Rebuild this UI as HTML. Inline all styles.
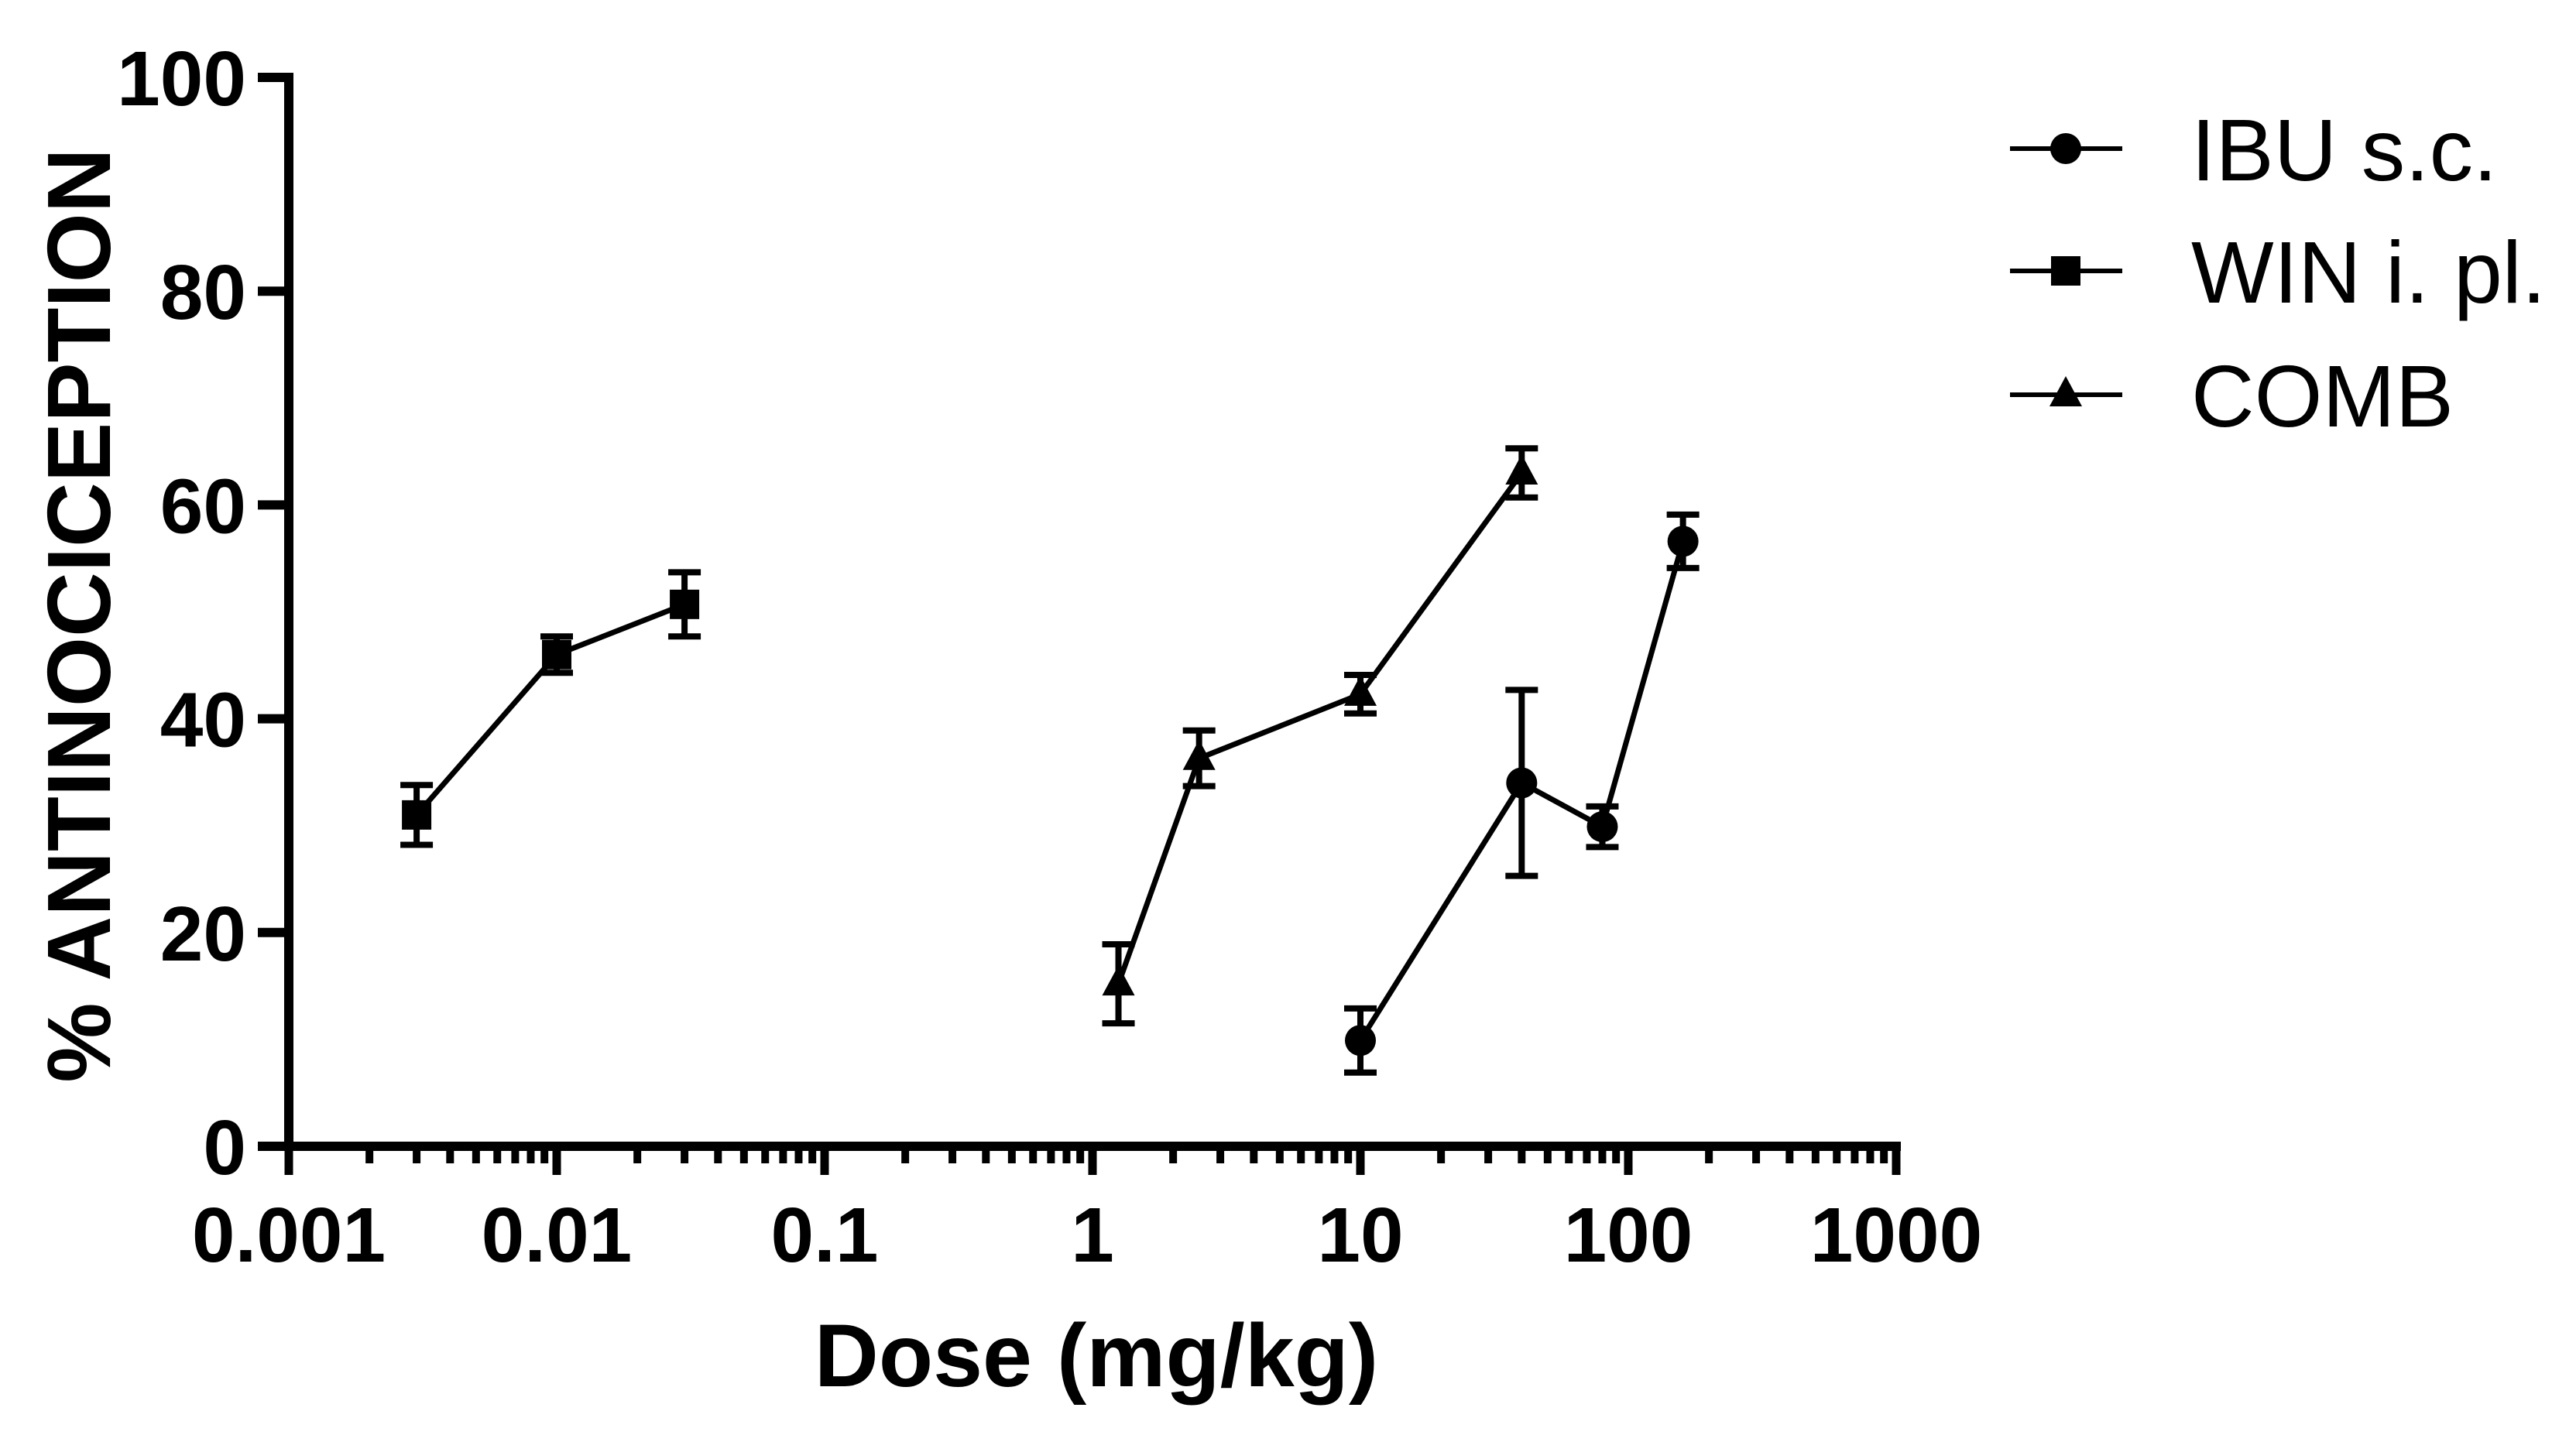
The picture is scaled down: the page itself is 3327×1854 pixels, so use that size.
<!DOCTYPE html>
<html><head><meta charset="utf-8"><style>
html,body{margin:0;padding:0;background:#fff;}
svg{display:block;}
text{font-family:"Liberation Sans",Arial,sans-serif;fill:#000;}
</style></head><body>
<svg id="chart" width="3327" height="1854" viewBox="0 0 3327 1854" xmlns="http://www.w3.org/2000/svg">
<g id="axes"></g>
<g id="series"></g>
<text transform="translate(142,795) rotate(-90)" text-anchor="middle" font-size="116" font-weight="bold">% ANTINOCICEPTION</text>
<text x="1416" y="1791" text-anchor="middle" font-size="115" font-weight="bold">Dose (mg/kg)</text>
<g id="legend"></g>
</svg>
<script>
const yTicks = [0, 20, 40, 60, 80, 100];
const xTickLabels = ["0.001", "0.01", "0.1", "1", "10", "100", "1000"];
const xTickValues = [0.001, 0.01, 0.1, 1, 10, 100, 1000];
const seriesNames = ["IBU s.c.", "WIN i. pl.", "COMB"];
const ibuX = [10, 40, 80, 160];
const ibuY = [9.9, 34, 29.9, 56.6];
const ibuErr = [3, 8.7, 1.9, 2.5];
const winX = [0.003, 0.01, 0.03];
const winY = [31, 46, 50.7];
const winErr = [2.8, 1.7, 3];
const combX = [1.25, 2.5, 10, 40];
const combY = [15.2, 36.3, 42.3, 63];
const combErr = [3.7, 2.6, 1.8, 2.3];

const NS = "http://www.w3.org/2000/svg";
const X0 = 373, DEC = 346, Y0 = 1481, Y100 = 100;
function xs(v){ return X0 + (Math.log10(v) + 3) * DEC; }
function ys(v){ return Y0 - (v / 100) * (Y0 - Y100); }
function mk(tag, attrs, parent){
  const e = document.createElementNS(NS, tag);
  for (const k in attrs) e.setAttribute(k, attrs[k]);
  parent.appendChild(e); return e;
}
const axes = document.getElementById('axes');
let el;
el = mk('line', {x1: X0, y1: 94, x2: X0, y2: 1487, stroke: '#000', 'stroke-width': 12}, axes);


el = mk('line', {x1: 367, y1: Y0, x2: xs(1000) + 6, y2: Y0, stroke: '#000', 'stroke-width': 12}, axes);


yTicks.forEach(v => {
  const y = ys(v);
  el = mk('line', {x1: 333, y1: y, x2: X0, y2: y, stroke: '#000', 'stroke-width': 12}, axes);
  
  
  el = mk('text', {x: 318, y: y + 36, 'text-anchor': 'end', 'font-size': 100, 'font-weight': 'bold'}, axes);
  el.textContent = String(v);
  
  
});
xTickValues.forEach((v, i) => {
  const x = xs(v);
  el = mk('line', {x1: x, y1: Y0, x2: x, y2: 1518, stroke: '#000', 'stroke-width': 11}, axes);
  
  
  el = mk('text', {x: x, y: 1630, 'text-anchor': 'middle', 'font-size': 100, 'font-weight': 'bold'}, axes);
  el.textContent = xTickLabels[i];
  
  
  if (i < xTickValues.length - 1) {
    for (let m = 2; m <= 9; m++) {
      const xm = xs(v * m);
      el = mk('line', {x1: xm, y1: Y0, x2: xm, y2: 1503, stroke: '#000', 'stroke-width': 10}, axes);
      
      
    }
  }
});

const seriesG = document.getElementById('series');
function marker(shape, cx, cy, parent){
  let m;
  if (shape === 'circle') m = mk('circle', {cx: cx, cy: cy, r: 20, fill: '#000'}, parent);
  else if (shape === 'square') m = mk('rect', {x: cx - 19, y: cy - 19, width: 38, height: 38, fill: '#000'}, parent);
  else m = mk('polygon', {points: `${cx},${cy - 24} ${cx - 21},${cy + 15} ${cx + 21},${cy + 15}`, fill: '#000'}, parent);
  return m;
}
function drawSeries(name, X, Y, E, shape){
  const g = mk('g', {}, seriesG);
  
  
  const pts = X.map((x, i) => xs(x) + ',' + ys(Y[i])).join(' ');
  el = mk('polyline', {points: pts, fill: 'none', stroke: '#000', 'stroke-width': 7}, g);
  
  
  X.forEach((x, i) => {
    const cx = xs(x), yt = ys(Y[i] + E[i]), yb = ys(Y[i] - E[i]);
    el = mk('path', {d: `M${cx},${yt}V${yb}M${cx - 21},${yt}H${cx + 21}M${cx - 21},${yb}H${cx + 21}`, stroke: '#000', 'stroke-width': 8, fill: 'none'}, g);
    
    
    el = marker(shape, cx, ys(Y[i]), g);
    
    
  });
}
drawSeries('win', winX, winY, winErr, 'square');
drawSeries('comb', combX, combY, combErr, 'triangle');
drawSeries('ibu', ibuX, ibuY, ibuErr, 'circle');

const legend = document.getElementById('legend');
const shapes = ['circle', 'square', 'triangle'];
const legY = [192, 350, 510];
seriesNames.forEach((n, i) => {
  const g = mk('g', {}, legend);
  
  
  el = mk('line', {x1: 2596, y1: legY[i], x2: 2741, y2: legY[i], stroke: '#000', 'stroke-width': 6}, g);
  
  
  el = marker(shapes[i], 2668, legY[i], g);
  
  
  el = mk('text', {x: 2830, y: legY[i] + 41, 'font-size': 113}, g);
  el.textContent = n;
  
  
});
</script>
</body></html>
